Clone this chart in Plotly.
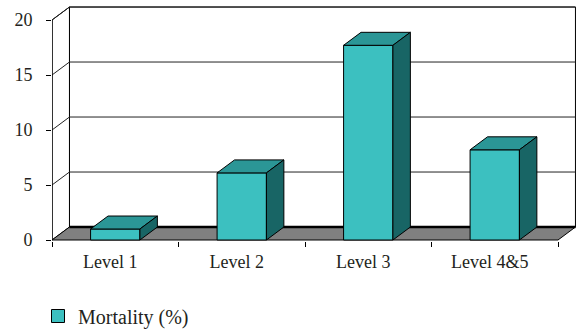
import plotly.graph_objects as go

categories = ["Level 1", "Level 2", "Level 3", "Level 4&5"]
mortality = [1.0, 6.1, 17.7, 8.2]
y_ticks = [0, 5, 10, 15, 20]
series_name = "Mortality (%)"

FRONT = "#3cc0c0"
TOP = "#2b9696"
SIDE = "#186565"
FLOOR = "#808080"
FONT = dict(family="Liberation Serif", size=18, color="#231f20")
LEGEND_FONT = dict(family="Liberation Serif", size=20, color="#231f20")

# 3-D depth offsets in data units
DX = 0.138
DY = 1.18
HALF = 0.195
n = len(categories)
x_lo, x_hi = -0.5, n - 0.5
y_top = max(y_ticks)

fig = go.Figure()

def poly(xs, ys, fill, width=1, color="black"):
    fig.add_trace(go.Scatter(x=xs + [xs[0]], y=ys + [ys[0]], mode="lines", fill="toself",
                             fillcolor=fill, line=dict(color=color, width=width),
                             showlegend=False, hoverinfo="skip"))

def line(xs, ys, color="black", width=1):
    fig.add_trace(go.Scatter(x=xs, y=ys, mode="lines", line=dict(color=color, width=width),
                             showlegend=False, hoverinfo="skip"))

# back wall and left wall
poly([x_lo + DX, x_hi + DX, x_hi + DX, x_lo + DX], [DY, DY, y_top + DY, y_top + DY], "white")
poly([x_lo, x_lo + DX, x_lo + DX, x_lo], [0, DY, y_top + DY, y_top], "white")
# gridlines
for v in y_ticks[1:]:
    line([x_lo, x_lo + DX, x_hi + DX], [v, v + DY, v + DY], color="#222", width=1)
# floor
poly([x_lo, x_hi, x_hi + DX, x_lo + DX], [0, 0, DY, DY], FLOOR)
line([x_lo + DX, x_hi + DX], [DY, DY], width=2.5)
# front axis
line([x_lo, x_lo], [0, y_top], width=1.2)

# bars
for i, v in enumerate(mortality):
    x0, x1 = i - HALF, i + HALF
    poly([x0, x1, x1, x0], [0, 0, v, v], FRONT)
    poly([x0, x1, x1 + DX, x0 + DX], [v, v, v + DY, v + DY], TOP)
    poly([x1, x1 + DX, x1 + DX, x1], [0, DY, v + DY, v], SIDE)

# legend entry
fig.add_trace(go.Scatter(x=[None], y=[None], mode="markers", name=series_name,
                         marker=dict(symbol="square", size=13, color=FRONT,
                                     line=dict(color="black", width=1))))

W, H = 576, 331
ml, mr, mt, mb = 52, 0, 5, 90
plot_h = H - mt - mb
px_per_unit = 11.0

fig.update_layout(
    width=W, height=H,
    margin=dict(l=ml, r=mr, t=mt, b=mb, autoexpand=False),
    paper_bgcolor="white", plot_bgcolor="white",
    font=FONT,
    showlegend=True,
    legend=dict(x=(38 - ml) / (W - ml - mr), y=(H - mb - 316) / plot_h,
                xanchor="left", yanchor="middle", font=LEGEND_FONT, bgcolor="rgba(0,0,0,0)"),
    xaxis=dict(range=[x_lo, x_lo + (W - ml - mr) / 126.5],
               tickvals=list(range(n)), ticktext=categories, ticks="",
               showgrid=False, zeroline=False, showline=False, automargin=False,
               ticklabelshift=-5, ticklabelstandoff=8,
               minor=dict(tickvals=[i - 0.5 for i in range(n + 1)], ticks="outside",
                          ticklen=5, tickcolor="black", tickwidth=1, showgrid=False)),
    yaxis=dict(range=[-1 / px_per_unit, (H - mb - 1 - mt) / px_per_unit],
               tickvals=y_ticks, ticks="outside", ticklen=5, tickcolor="black",
               showgrid=False, zeroline=False, showline=False, automargin=False,
               ticklabelstandoff=10),
)

fig.write_html("out.html")
